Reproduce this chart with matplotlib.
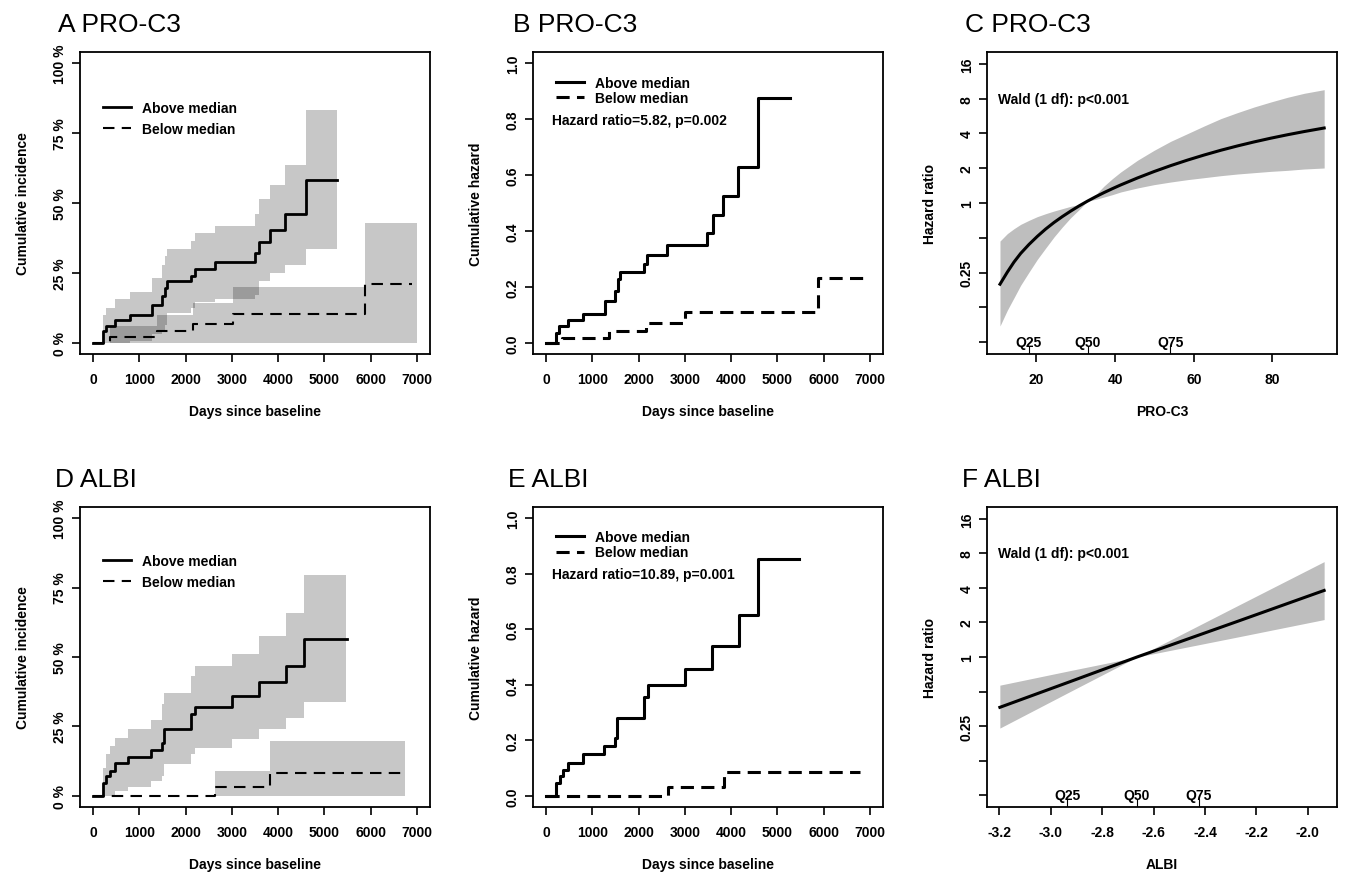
"""
Six-panel survival figure: cumulative incidence, cumulative hazard and
spline hazard ratio for PRO-C3 and ALBI.
"""

import matplotlib as mpl
import matplotlib.pyplot as plt
from matplotlib.ticker import FixedLocator, NullLocator

mpl.use("Agg")

plt.rcParams["font.family"] = ["Liberation Sans", "DejaVu Sans"]
plt.rcParams["font.weight"] = "bold"
plt.rcParams["axes.labelweight"] = "bold"
plt.rcParams["font.size"] = 10

# ---- data ------------------------------------------------------------------
# A: PRO-C3 cumulative incidence (%), above median
a_up_days = [0, 222, 280, 475, 800, 1267, 1500, 1555, 1606, 2110, 2203, 2635, 3500, 3594, 3824, 4148, 4595, 5278]
a_up_est = [0, 4.2, 5.9, 8.0, 10.1, 13.7, 16.7, 19.7, 22.1, 23.9, 26.5, 29.0, 32.0, 36.1, 40.3, 46.0, 58.3, 58.3]
a_up_lo = [0, 0, 0, 0, 0.5, 3.0, 4.7, 6.5, 10.7, 12.5, 14.5, 15.8, 17.0, 22.0, 25.0, 28.0, 33.5, 33.5]
a_up_hi = [0, 10.0, 12.5, 15.5, 18.1, 23.3, 28.0, 31.0, 33.5, 36.4, 39.1, 41.8, 46.0, 51.4, 56.5, 63.7, 83.2, 83.2]
a_up_band_end = 5278
# A: below median
a_dn_days = [0, 370, 1390, 2153, 3031, 5876, 6900]
a_dn_est = [0, 2.0, 4.4, 6.8, 10.3, 21.2, 21.2]
a_dn_lo = [0, 0, 0, 0, 0, 0, 0]
a_dn_hi = [0, 5.9, 10.1, 14.3, 19.9, 43.0, 43.0]
a_dn_band_end = 7000

# B: PRO-C3 cumulative hazard
b_up_days = [0, 222, 280, 475, 800, 1267, 1500, 1555, 1606, 2117, 2189, 2622, 3489, 3598, 3830, 4155, 4588, 5273]
b_up_h = [0, 0.035, 0.059, 0.083, 0.103, 0.151, 0.185, 0.227, 0.253, 0.281, 0.314, 0.350, 0.392, 0.458, 0.526, 0.628, 0.877, 0.877]
b_dn_days = [0, 350, 1372, 2150, 3006, 5873, 6898]
b_dn_h = [0, 0.019, 0.044, 0.071, 0.109, 0.233, 0.233]

# C: PRO-C3 hazard ratio curve with 95% band
c_x = [10.76, 12.63, 14.32, 16.02, 18.14, 20.25, 22.37, 24.49, 26.61, 28.73, 30.85, 32.97, 35.08, 37.20,
       39.32, 41.44, 45.68, 49.92, 54.15, 58.39, 62.63, 66.86, 71.10, 75.34, 79.58, 83.81, 88.05, 93.14]
c_hr = [0.198, 0.252, 0.308, 0.366, 0.438, 0.514, 0.595, 0.678, 0.763, 0.851, 0.943, 1.037, 1.133, 1.231,
        1.331, 1.434, 1.647, 1.873, 2.108, 2.352, 2.604, 2.862, 3.121, 3.382, 3.643, 3.901, 4.158, 4.463]
c_hi = [0.468, 0.543, 0.599, 0.653, 0.708, 0.762, 0.808, 0.852, 0.893, 0.936, 0.967, 1.037, 1.181, 1.403,
        1.625, 1.856, 2.343, 2.860, 3.423, 3.986, 4.645, 5.377, 6.063, 6.787, 7.498, 8.231, 8.914, 9.585]
c_lo = [0.086, 0.118, 0.151, 0.194, 0.252, 0.325, 0.407, 0.508, 0.620, 0.746, 0.875, 1.037, 1.076, 1.127,
        1.181, 1.246, 1.349, 1.442, 1.520, 1.593, 1.657, 1.724, 1.783, 1.831, 1.880, 1.918, 1.970, 2.010]
c_quant = [18.1, 33.0, 54.0]

# D: ALBI cumulative incidence (%), above median
d_up_days = [0, 216, 289, 375, 469, 758, 1263, 1500, 1540, 2110, 2201, 2994, 3593, 4170, 4560, 5483]
d_up_est = [0, 4.8, 7.0, 9.0, 11.7, 14.1, 16.5, 19.2, 24.0, 29.4, 32.1, 36.1, 40.9, 46.9, 56.5, 56.5]
d_up_lo = [0, 0, 0, 0, 1.8, 3.2, 5.2, 7.0, 11.4, 15.0, 17.4, 20.4, 24.0, 28.2, 33.7, 33.7]
d_up_hi = [0, 10.2, 15.0, 18.0, 21.0, 24.0, 27.3, 33.0, 37.0, 43.3, 46.6, 51.1, 57.7, 65.9, 79.6, 79.6]
d_up_band_end = 5470
# D: below median
d_dn_days = [0, 2634, 3830, 6674]
d_dn_est = [0, 3.2, 8.4, 8.4]
d_dn_lo = [0, 0, 0, 0]
d_dn_hi = [0, 9.0, 19.6, 19.6]
d_dn_band_end = 6746

# E: ALBI cumulative hazard
e_up_days = [0, 216, 303, 375, 484, 794, 1263, 1500, 1537, 2114, 2201, 3009, 3587, 4164, 4582, 5470]
e_up_h = [0, 0.048, 0.070, 0.093, 0.120, 0.150, 0.180, 0.210, 0.279, 0.355, 0.399, 0.457, 0.541, 0.651, 0.853, 0.853]
e_dn_days = [0, 2634, 3839, 6783]
e_dn_h = [0, 0.032, 0.087, 0.087]

# F: ALBI hazard ratio (linear)
f_x = [-3.197, -2.923, -2.664, -2.276, -1.937]
f_hr = [0.364, 0.611, 1.0, 2.036, 3.805]
f_hi = [0.568, 0.762, 1.0, 2.784, 6.787]
f_lo = [0.240, 0.501, 1.0, 1.49, 2.12]
f_quant = [-2.936, -2.664, -2.425]

quant_names = ["Q25", "Q50", "Q75"]
legend_labels = ["Above median", "Below median"]
day_ticks = [0, 1000, 2000, 3000, 4000, 5000, 6000, 7000]
hr_ticks = [16, 8, 4, 2, 1, 0.5, 0.25, 0.125, 0.0625]
hr_tick_labels = ["16", "8", "4", "2", "1", "", "0.25", "", ""]
albi_ticks = [-3.2, -3.0, -2.8, -2.6, -2.4, -2.2, -2.0]

# ---- layout ----------------------------------------------------------------
W, H = 1345, 879
fig = plt.figure(figsize=(W / 100, H / 100), dpi=100)


def add_box(left, top, right, bottom):
    return fig.add_axes([left / W, 1 - bottom / H, (right - left) / W, (bottom - top) / H])


def style(ax, xlabel, ylabel):
    for sp in ax.spines.values():
        sp.set_linewidth(1.3)
    ax.tick_params(direction="out", length=5.5, width=1.2, labelsize=10)
    ax.tick_params(axis="x", pad=7.5)
    ax.tick_params(axis="y", pad=4)
    for lab in ax.get_yticklabels():
        lab.set_rotation(90)
        lab.set_va("center")
    ax.set_xlabel(xlabel, fontsize=10, fontweight="bold")
    ax.set_ylabel(ylabel, fontsize=10, fontweight="bold")
    ax.xaxis.set_label_coords(0.5, -0.19)
    ax.yaxis.set_label_coords(-0.163, 0.5)
    ax.xaxis.label.set_va("center")
    ax.yaxis.label.set_va("center")


def step_band(ax, days, lo, hi, band_end):
    xs = list(days[:-1]) + [band_end]
    ax.fill_between(xs, lo, hi, step="post", color="black", alpha=0.22, lw=0)


def day_axis(ax):
    ax.set_xlim(-280, 7280)
    ax.set_xticks(day_ticks)


def incidence_panel(ax, up, dn):
    step_band(ax, up[0], up[2], up[3], up[4])
    step_band(ax, dn[0], dn[2], dn[3], dn[4])
    ax.step(up[0], up[1], where="post", color="black", lw=2.0, label=legend_labels[0])
    ax.step(dn[0], dn[1], where="post", color="black", lw=1.5,
            linestyle=(0, (5.5, 3.5)), label=legend_labels[1])
    day_axis(ax)
    ax.set_ylim(-4, 104)
    ax.set_yticks([0, 25, 50, 75, 100])
    ax.set_yticklabels([f"{v} %" for v in [0, 25, 50, 75, 100]])
    style(ax, "Days since baseline", "Cumulative incidence")


def hazard_panel(ax, up_days, up_h, dn_days, dn_h, hr_text, text_y):
    ax.step(up_days, up_h, where="post", color="black", lw=2.2, label=legend_labels[0])
    ax.step(dn_days, dn_h, where="post", color="black", lw=2.2,
            linestyle=(0, (4.3, 2.4)), label=legend_labels[1])
    day_axis(ax)
    ax.set_ylim(-0.04, 1.04)
    ax.set_yticks([0.0, 0.2, 0.4, 0.6, 0.8, 1.0])
    ax.set_yticklabels(["0.0", "0.2", "0.4", "0.6", "0.8", "1.0"])
    ax.text(0.054, text_y, hr_text, transform=ax.transAxes, va="center", ha="left", fontsize=10)
    style(ax, "Days since baseline", "Cumulative hazard")


def hr_panel(ax, x, hr, lo, hi, quant, xlim, xticks, xticklabels, xlabel, text_y):
    ax.fill_between(x, lo, hi, color="#bebebe", lw=0)
    ax.plot(x, hr, color="black", lw=2.2, solid_joinstyle="round")
    ax.set_yscale("log", base=2)
    ax.set_ylim(2 ** -4.345, 2 ** 4.345)
    ax.yaxis.set_major_locator(FixedLocator(hr_ticks))
    ax.yaxis.set_minor_locator(NullLocator())
    ax.set_yticklabels(hr_tick_labels)
    ax.set_xlim(*xlim)
    ax.set_xticks(xticks)
    ax.set_xticklabels(xticklabels)
    trans = ax.get_xaxis_transform()
    ax.vlines(quant, 0, 0.027, transform=trans, color="black", lw=0.8)
    for q, name in zip(quant, quant_names):
        ax.text(q, 0.04, name, transform=trans, ha="center", va="center", fontsize=10)
    ax.text(0.03, text_y, "Wald (1 df): p<0.001", transform=ax.transAxes,
            ha="left", va="center", fontsize=10)
    style(ax, xlabel, "Hazard ratio")


def legend(ax, y_top, spacing):
    ax.legend(loc="upper left", bbox_to_anchor=(0.066, y_top), frameon=False,
              fontsize=10, handlelength=2.0, handletextpad=0.8,
              borderpad=0, borderaxespad=0, labelspacing=spacing)


ax_a = add_box(80, 53, 430, 355)
ax_b = add_box(533, 53, 883, 355)
ax_c = add_box(987, 53, 1337, 355)
ax_d = add_box(80, 508, 430, 808)
ax_e = add_box(533, 508, 883, 808)
ax_f = add_box(987, 508, 1337, 808)

incidence_panel(ax_a,
                (a_up_days, a_up_est, a_up_lo, a_up_hi, a_up_band_end),
                (a_dn_days, a_dn_est, a_dn_lo, a_dn_hi, a_dn_band_end))
legend(ax_a, 0.838, 0.5)

hazard_panel(ax_b, b_up_days, b_up_h, b_dn_days, b_dn_h, "Hazard ratio=5.82, p=0.002", 0.775)
legend(ax_b, 0.922, 0.12)

hr_panel(ax_c, c_x, c_hr, c_lo, c_hi, c_quant, (7.46, 96.4), [20, 40, 60, 80],
         ["20", "40", "60", "80"], "PRO-C3", 0.844)

incidence_panel(ax_d,
                (d_up_days, d_up_est, d_up_lo, d_up_hi, d_up_band_end),
                (d_dn_days, d_dn_est, d_dn_lo, d_dn_hi, d_dn_band_end))
legend(ax_d, 0.843, 0.5)

hazard_panel(ax_e, e_up_days, e_up_h, e_dn_days, e_dn_h, "Hazard ratio=10.89, p=0.001", 0.777)
legend(ax_e, 0.924, 0.12)

hr_panel(ax_f, f_x, f_hr, f_lo, f_hi, f_quant, (-3.247, -1.887), albi_ticks,
         [f"{v:.1f}" for v in albi_ticks], "ALBI", 0.847)

titles = [("A PRO-C3", 58, 25), ("B PRO-C3", 513, 25), ("C PRO-C3", 965, 25),
          ("D ALBI", 55, 480), ("E ALBI", 508, 480), ("F ALBI", 962, 480)]
for txt, x, y in titles:
    fig.text(x / W, 1 - y / H, txt, fontsize=19, fontweight="normal", ha="left", va="center")

fig.savefig("out.png", dpi=100)
